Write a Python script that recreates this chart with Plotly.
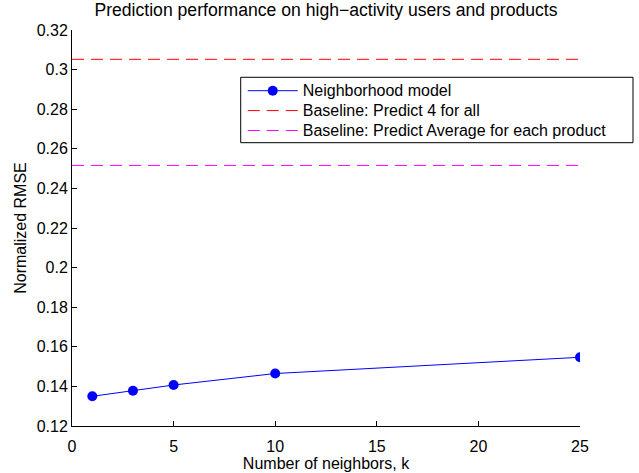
import plotly.graph_objects as go

k_values = [1, 3, 5, 10, 25]
rmse_neighborhood = [0.1350, 0.1378, 0.1407, 0.1465, 0.1547]
baseline_x = [0, 25]
baseline_predict4 = [0.3052, 0.3052]
baseline_avg_product = [0.2516, 0.2516]
y_ticks = [0.12, 0.14, 0.16, 0.18, 0.2, 0.22, 0.24, 0.26, 0.28, 0.3, 0.32]
y_tick_labels = ["0.12", "0.14", "0.16", "0.18", "0.2", "0.22", "0.24", "0.26", "0.28", "0.3", "0.32"]
x_ticks = [0, 5, 10, 15, 20, 25]
series_names = ["Neighborhood model", "Baseline: Predict 4 for all",
                "Baseline: Predict Average for each product"]

font_family = "Liberation Sans, Arial, Helvetica, sans-serif"


def legend_name(s):
    return '<span style="font-size:16px">' + s + '</span>'


fig = go.Figure()
fig.add_trace(go.Scatter(
    x=k_values, y=rmse_neighborhood, mode="lines+markers",
    name=legend_name(series_names[0]),
    line=dict(color="#0000ff", width=1),
    marker=dict(color="#0000ff", size=10),
))
fig.add_trace(go.Scatter(
    x=baseline_x, y=baseline_predict4, mode="lines",
    name=legend_name(series_names[1]),
    line=dict(color="#ff0000", width=1, dash="12px,7px"),
))
fig.add_trace(go.Scatter(
    x=baseline_x, y=baseline_avg_product, mode="lines",
    name=legend_name(series_names[2]),
    line=dict(color="#ff00ff", width=1, dash="12px,7px"),
))

# legend frame (paper coordinates relative to plot area)
fig.add_shape(type="rect", xref="paper", yref="paper",
              x0=0.3321, x1=1.1043, y0=0.7154, y1=0.8806,
              line=dict(color="black", width=1), fillcolor="white", layer="below")

fig.update_layout(
    width=639, height=473,
    margin=dict(l=72, r=59, t=30, b=47, autoexpand=False),
    paper_bgcolor="white", plot_bgcolor="rgba(0,0,0,0)",
    font=dict(family=font_family, size=16, color="black"),
    title=dict(text="Prediction performance on high\u2212activity users and products",
               x=0.5, xref="paper", xanchor="center", y=0.993, yref="container",
               yanchor="top", font=dict(size=17.6)),
    showlegend=True,
    legend=dict(x=0.3361, y=0.8845, xanchor="left", yanchor="top",
                borderwidth=0, bgcolor="rgba(0,0,0,0)",
                font=dict(size=13), tracegroupgap=0, itemwidth=50,
                traceorder="normal"),
    xaxis=dict(range=[0, 25], tickvals=x_ticks, ticks="inside", ticklen=5,
               ticklabelstandoff=6, automargin=False,
               showgrid=False, zeroline=False, showline=True, linecolor="black",
               linewidth=1, tickcolor="black",
               title=dict(text="Number of neighbors, k", standoff=1, font=dict(size=16))),
    yaxis=dict(range=[0.12, 0.32], tickvals=y_ticks, ticktext=y_tick_labels,
               ticks="inside", ticklen=5, automargin=False,
               showgrid=False, zeroline=False, showline=True, linecolor="black",
               linewidth=1, tickcolor="black",
               title=dict(text="Normalized RMSE", standoff=6, font=dict(size=16))),
)

fig.write_html("out.html")
